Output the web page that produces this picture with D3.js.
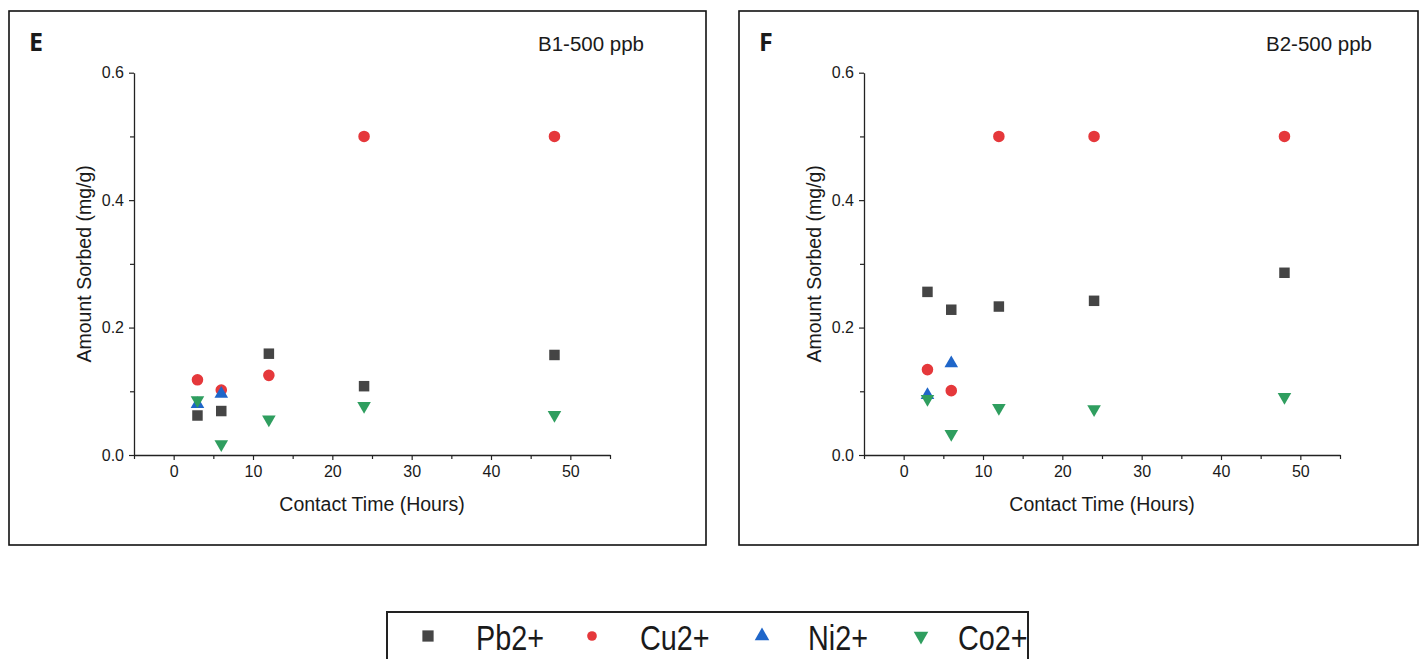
<!DOCTYPE html>
<html>
<head>
<meta charset="utf-8">
<script src="https://cdn.jsdelivr.net/npm/d3@7"></script>
<style>
  html, body { margin: 0; padding: 0; background: #fff; }
  svg { display: block; }
  text { font-family: "Liberation Sans", Arial, sans-serif; fill: #1a1a1a; }
</style>
</head>
<body>
<svg id="chart" width="1419" height="659"></svg>
<script>
// Contact time (hours) at which each sample was taken
const hours = [3, 6, 12, 24, 48];
const ionNames = ["Pb2+", "Cu2+", "Ni2+", "Co2+"];
const xTicks = [0, 10, 20, 30, 40, 50];
const yTicks = [0.0, 0.2, 0.4, 0.6];

// Sorbed amounts (mg/g), B1 at 500 ppb
const b1Pb = [0.062, 0.069, 0.159, 0.108, 0.157];
const b1Cu = [0.118, 0.102, 0.125, 0.500, 0.500];
const b1Ni = [0.080, 0.096, null, null, null];
const b1Co = [0.086, 0.017, 0.056, 0.077, 0.063];

// Sorbed amounts (mg/g), B2 at 500 ppb
const b2Pb = [0.256, 0.228, 0.233, 0.242, 0.286];
const b2Cu = [0.134, 0.101, 0.500, 0.500, 0.500];
const b2Ni = [0.094, 0.144, null, null, null];
const b2Co = [0.088, 0.033, 0.074, 0.072, 0.091];

const ionStyle = {
  "Pb2+": { color: "#454545", symbol: d3.symbolSquare, size: 110 },
  "Cu2+": { color: "#e5383b", symbol: d3.symbolCircle, size: 105 },
  "Ni2+": { color: "#1f66c9", symbol: d3.symbolTriangle, size: 80 },
  "Co2+": { color: "#2f9e5f", symbol: d3.symbolTriangle, size: 80, flip: true }
};

const svg = d3.select("#chart");

function drawPanel(opt) {
  const g = svg.append("g");
  // frame
  g.append("rect")
    .attr("x", opt.frame[0]).attr("y", opt.frame[1])
    .attr("width", opt.frame[2]).attr("height", opt.frame[3])
    .attr("fill", "none").attr("stroke", "#111").attr("stroke-width", 1.6);

  g.append("text").attr("x", opt.frame[0] + 20).attr("y", 51)
    .attr("font-size", 25).attr("font-weight", "bold")
    .style("font-family", "'Open Sans', 'Liberation Sans', sans-serif")
    .text(opt.letter);
  g.append("text").attr("x", opt.noteX).attr("y", 51)
    .attr("font-size", 20.5).text(opt.note);

  const x = d3.scaleLinear().domain([-5, 55]).range([opt.left, opt.left + 476]);
  const y = d3.scaleLinear().domain([0, 0.6]).range([455, 72.7]);

  // x axis: majors with labels, minors between
  g.append("g").attr("transform", "translate(0,455)")
    .call(d3.axisBottom(x).tickValues(xTicks).tickFormat(d3.format("d")).tickSizeInner(5).tickSizeOuter(0).tickPadding(6));
  g.append("g").attr("transform", "translate(0,455)")
    .call(d3.axisBottom(x).tickValues([-5, 5, 15, 25, 35, 45, 55]).tickFormat("").tickSizeInner(4).tickSizeOuter(0))
    .select(".domain").remove();

  g.append("g").attr("transform", `translate(${opt.left},0)`)
    .call(d3.axisLeft(y).tickValues(yTicks).tickFormat(d3.format(".1f")).tickSizeInner(5).tickSizeOuter(0).tickPadding(5));
  g.append("g").attr("transform", `translate(${opt.left},0)`)
    .call(d3.axisLeft(y).tickValues([0.1, 0.3, 0.5]).tickFormat("").tickSizeInner(4).tickSizeOuter(0))
    .select(".domain").remove();

  svg.selectAll(".domain").attr("stroke", "#222").attr("stroke-width", 1.3);
  g.selectAll(".tick line").attr("stroke", "#222").attr("stroke-width", 1.2);
  g.selectAll(".tick text").attr("font-size", 16)
    .style("font-family", "'Liberation Sans', Arial, sans-serif").attr("fill", "#1a1a1a");

  g.append("text").attr("x", (x.range()[0] + x.range()[1]) / 2).attr("y", 511)
    .attr("text-anchor", "middle").attr("font-size", 19.5).text("Contact Time (Hours)");
  g.append("text")
    .attr("transform", `translate(${opt.left - 43},${(y(0) + y(0.6)) / 2}) rotate(-90)`)
    .attr("text-anchor", "middle").attr("font-size", 19.5).text("Amount Sorbed (mg/g)");

  opt.series.forEach((vals, i) => {
    const name = ionNames[i];
    const st = ionStyle[name];
    const pts = hours.map((h, j) => ({ h, v: vals[j] })).filter(d => d.v != null);
    g.selectAll(null).data(pts).enter().append("path")
      .attr("d", d3.symbol().type(st.symbol).size(st.size))
      .attr("transform", d => `translate(${x(d.h)},${y(d.v)})${st.flip ? " rotate(180)" : ""}`)
      .attr("fill", st.color);
  });
}

drawPanel({ frame: [9, 11, 697, 534], letter: "E", note: "B1-500 ppb", noteX: 538, left: 134,
  series: [b1Pb, b1Cu, b1Ni, b1Co] });
drawPanel({ frame: [739, 11, 679, 534], letter: "F", note: "B2-500 ppb", noteX: 1266, left: 864,
  series: [b2Pb, b2Cu, b2Ni, b2Co] });

// shared legend
const legend = svg.append("g");
legend.append("rect").attr("x", 387).attr("y", 612).attr("width", 641).attr("height", 60)
  .attr("fill", "none").attr("stroke", "#222").attr("stroke-width", 2);
const legendX = [428, 592, 762, 921];
const legendTextX = [476, 640, 808, 958];
ionNames.forEach((name, i) => {
  const st = ionStyle[name];
  legend.append("path")
    .attr("d", d3.symbol().type(st.symbol).size(st.size * (name === "Cu2+" ? 0.7 : 1.15)))
    .attr("transform", `translate(${legendX[i]},636)${st.flip ? " rotate(180)" : ""}`)
    .attr("fill", st.color);
  // condensed legend lettering
  legend.append("text")
    .attr("transform", `translate(${legendTextX[i]},650) scale(0.8,1)`)
    .attr("font-size", 36).text(name);
});
</script>
</body>
</html>
